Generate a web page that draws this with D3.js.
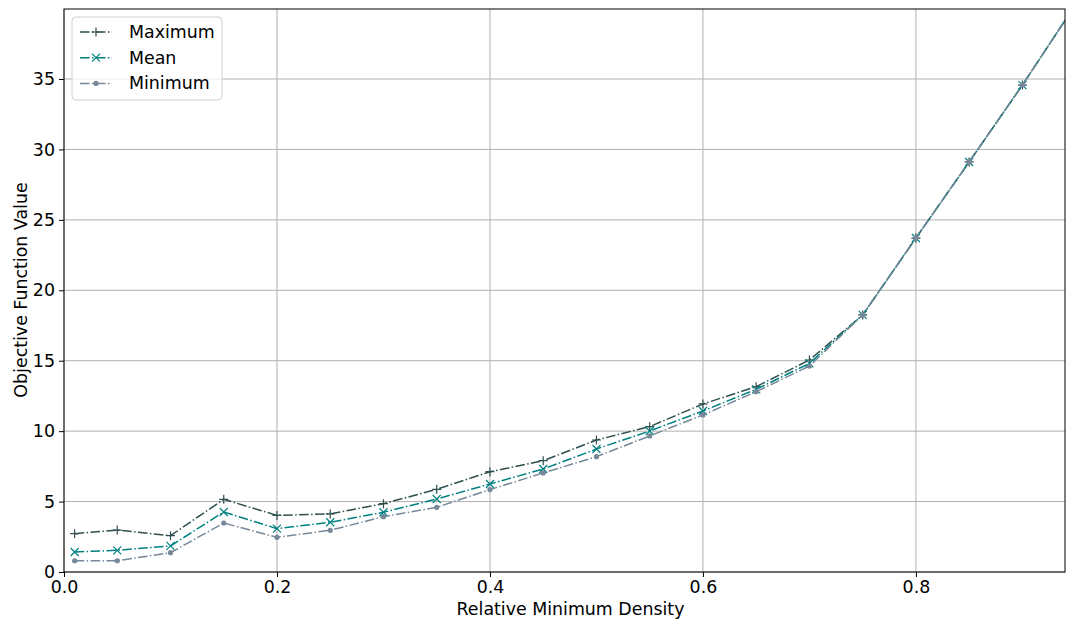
<!DOCTYPE html>
<html>
<head>
<meta charset="utf-8">
<script src="https://cdn.jsdelivr.net/npm/d3@7"></script>
<style>
  body { margin: 0; background: #fff; }
  svg text { font-family: "DejaVu Sans", sans-serif; fill: #000; }
</style>
</head>
<body>
<div id="chart"></div>
<script>
// density values on the x axis
var densities = [0.01, 0.05, 0.1, 0.15, 0.2, 0.25, 0.3, 0.35, 0.4, 0.45, 0.5, 0.55, 0.6, 0.65, 0.7, 0.75, 0.8, 0.85, 0.9, 0.95];

// objective values
var maxValues  = [2.72, 2.98, 2.58, 5.16, 4.02, 4.12, 4.85, 5.87, 7.12, 7.90, 9.37, 10.32, 11.93, 13.16, 15.05, 18.25, 23.71, 29.11, 34.57, 40.3];
var meanValues = [1.42, 1.54, 1.85, 4.26, 3.08, 3.53, 4.24, 5.18, 6.25, 7.31, 8.73, 10.01, 11.43, 12.97, 14.81, 18.25, 23.71, 29.11, 34.57, 40.3];
var minValues  = [0.80, 0.80, 1.37, 3.48, 2.46, 2.96, 3.93, 4.59, 5.85, 7.03, 8.19, 9.66, 11.15, 12.80, 14.62, 18.25, 23.71, 29.11, 34.57, 40.3];

var xTicks = [0, 0.2, 0.4, 0.6, 0.8];
var yTicks = [0, 5, 10, 15, 20, 25, 30, 35];

var series = [
  { name: "Maximum", values: maxValues,  color: "#2f4f4f", marker: "plus" },
  { name: "Mean",    values: meanValues, color: "#008080", marker: "cross" },
  { name: "Minimum", values: minValues,  color: "#778899", marker: "dot" }
];

var width = 1066, height = 619;
var margin = { top: 9, right: 1, bottom: 47, left: 64 };
var innerW = width - margin.left - margin.right;
var innerH = height - margin.top - margin.bottom;
var fontSize = 17.4;
var dash = "9.6,2.4,1.5,2.4";

var svg = d3.select("#chart").append("svg")
  .attr("width", width)
  .attr("height", height);

var g = svg.append("g")
  .attr("transform", "translate(" + margin.left + "," + margin.top + ")");

var x = d3.scaleLinear().domain([0, 0.94]).range([0, innerW]);
var y = d3.scaleLinear().domain([0, 39.97]).range([innerH, 0]);

svg.append("defs").append("clipPath").attr("id", "plotclip")
  .append("rect").attr("width", innerW).attr("height", innerH);

// grid
g.append("g").selectAll("line").data(xTicks).enter().append("line")
  .attr("x1", function(d) { return x(d); })
  .attr("x2", function(d) { return x(d); })
  .attr("y1", 0).attr("y2", innerH)
  .attr("stroke", "#b0b0b0").attr("stroke-width", 1);
g.append("g").selectAll("line").data(yTicks).enter().append("line")
  .attr("y1", function(d) { return y(d); })
  .attr("y2", function(d) { return y(d); })
  .attr("x1", 0).attr("x2", innerW)
  .attr("stroke", "#b0b0b0").attr("stroke-width", 1);

// axes
var xAxis = d3.axisBottom(x).tickValues(xTicks).tickSize(5).tickPadding(4).tickFormat(d3.format(".1f"));
var yAxis = d3.axisLeft(y).tickValues(yTicks).tickSize(5).tickPadding(4).tickFormat(d3.format("d"));

var gx = g.append("g").attr("transform", "translate(0," + innerH + ")").call(xAxis);
var gy = g.append("g").call(yAxis);
[gx, gy].forEach(function(a) {
  a.select(".domain").remove();
  a.selectAll("line").attr("stroke", "#000").attr("stroke-width", 1);
  a.selectAll("text").attr("font-size", fontSize).attr("font-family", "DejaVu Sans, sans-serif");
});

// lines
var line = d3.line()
  .x(function(d, i) { return x(densities[i]); })
  .y(function(d) { return y(d); });

var plot = g.append("g").attr("clip-path", "url(#plotclip)");

function drawMarker(sel, type, color) {
  if (type === "plus") {
    sel.append("path").attr("d", "M-4.5,0H4.5M0,-4.5V4.5")
      .attr("stroke", color).attr("stroke-width", 1.2).attr("fill", "none");
  } else if (type === "cross") {
    sel.append("path").attr("d", "M-4,-4L4,4M-4,4L4,-4")
      .attr("stroke", color).attr("stroke-width", 1.2).attr("fill", "none");
  } else {
    sel.append("circle").attr("r", 2.6).attr("fill", color);
  }
}

series.forEach(function(s) {
  plot.append("path")
    .datum(s.values)
    .attr("d", line)
    .attr("fill", "none")
    .attr("stroke", s.color)
    .attr("stroke-width", 1.5)
    .attr("stroke-dasharray", dash);
  plot.append("g").selectAll("g").data(s.values).enter().append("g")
    .attr("transform", function(d, i) { return "translate(" + x(densities[i]) + "," + y(d) + ")"; })
    .each(function() { drawMarker(d3.select(this), s.marker, s.color); });
});

// frame
g.append("rect").attr("width", innerW).attr("height", innerH)
  .attr("fill", "none").attr("stroke", "#000").attr("stroke-width", 1);

// axis titles
svg.append("text")
  .attr("x", margin.left + innerW / 2 + 6)
  .attr("y", 615)
  .attr("text-anchor", "middle")
  .attr("font-size", fontSize)
  .text("Relative Minimum Density");

svg.append("text")
  .attr("transform", "translate(27,290) rotate(-90)")
  .attr("text-anchor", "middle")
  .attr("font-size", fontSize)
  .text("Objective Function Value");

// legend
var legend = g.append("g").attr("transform", "translate(8,8)");
legend.append("rect")
  .attr("width", 150).attr("height", 83)
  .attr("rx", 4)
  .attr("fill", "#fff").attr("fill-opacity", 0.8)
  .attr("stroke", "#d0d0d0");
var items = legend.selectAll(".item").data(series).enter().append("g")
  .attr("class", "item")
  .attr("transform", function(d, i) { return "translate(0," + (15 + i * 25.7) + ")"; });
items.append("line")
  .attr("x1", 8).attr("x2", 40).attr("y1", 0).attr("y2", 0)
  .attr("stroke", function(d) { return d.color; })
  .attr("stroke-width", 1.5)
  .attr("stroke-dasharray", dash);
items.append("g").attr("transform", "translate(24,0)")
  .each(function(d) { drawMarker(d3.select(this), d.marker, d.color); });
items.append("text")
  .attr("x", 57).attr("y", 6)
  .attr("font-size", fontSize)
  .text(function(d) { return d.name; });
</script>
</body>
</html>
